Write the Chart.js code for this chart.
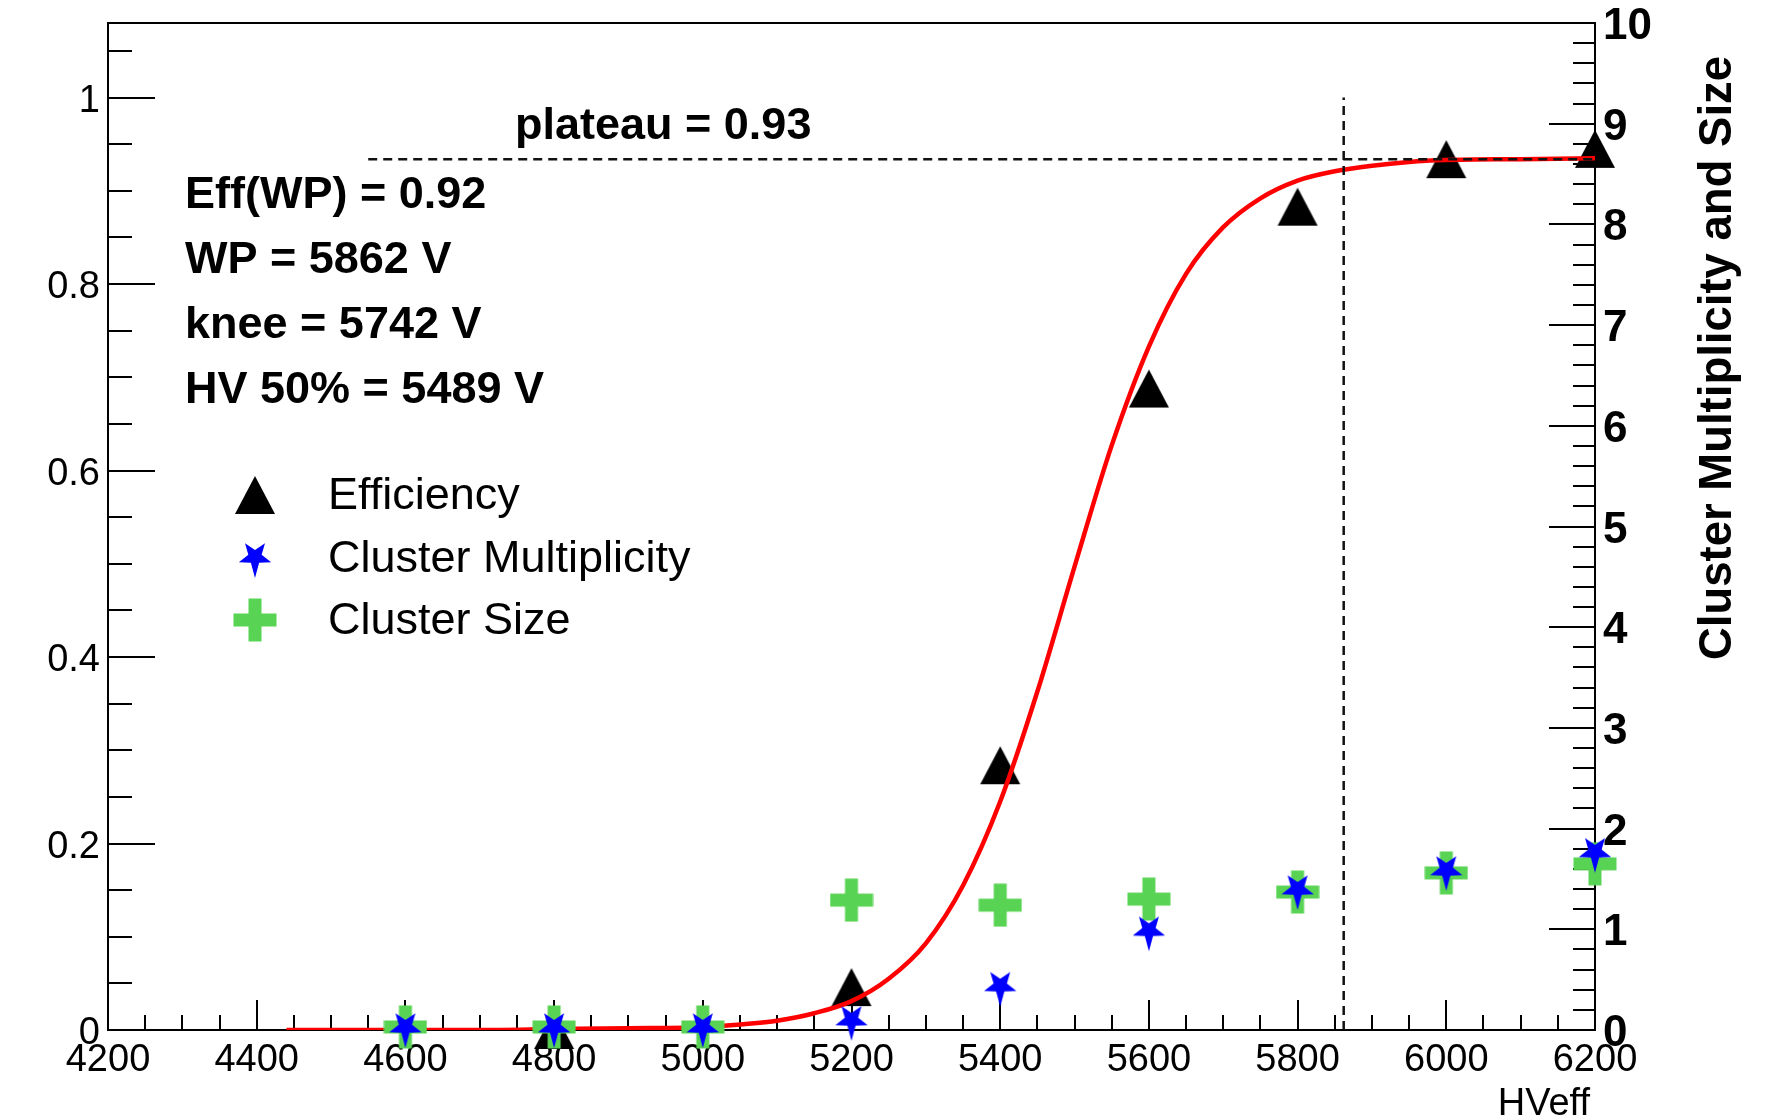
<!DOCTYPE html>
<html>
<head>
<meta charset="utf-8">
<title>Efficiency vs HVeff</title>
<script src="https://cdn.jsdelivr.net/npm/chart.js@4.4.1/dist/chart.umd.min.js"></script>
<style>
html, body { margin: 0; padding: 0; background: #ffffff; }
canvas { display: block; }
</style>
</head>
<body>
<canvas id="effChart" width="1784" height="1120"></canvas>
<script>
// measured points (HVeff in V)
const hvPoints = [4600, 4800, 5000, 5200, 5400, 5600, 5800, 6000, 6200];
const efficiency = [null, 0, null, 0.046, 0.284, 0.688, 0.883, 0.934, 0.945];
const clusterMult = [0.03, 0.03, 0.03, 0.10, 0.44, 0.99, 1.40, 1.59, 1.77];
const clusterSize = [0.03, 0.03, 0.03, 1.29, 1.24, 1.30, 1.37, 1.56, 1.65];

// sigmoid fit curve
const fitHV = [4440, 4500, 4600, 4700, 4800, 4900, 5000, 5050, 5100, 5150, 5200, 5250, 5300, 5350,
    5400, 5450, 5500, 5550, 5600, 5650, 5700, 5750, 5800, 5850, 5900, 5950, 6000, 6100, 6200];
const fitEff = [0, 0, 0, 0, 0.001, 0.002, 0.003, 0.006, 0.010, 0.018, 0.031, 0.055, 0.093, 0.155,
    0.245, 0.363, 0.497, 0.627, 0.733, 0.811, 0.861, 0.892, 0.911, 0.921, 0.927, 0.931, 0.933, 0.934, 0.935];

// plateau and working point guides
const plateauHV = [4550, 6200];
const plateauEff = [0.934, 0.934];
const wpHV = [5862, 5862];
const wpEff = [0, 1.0];

// axes
const xTicks = [4200, 4400, 4600, 4800, 5000, 5200, 5400, 5600, 5800, 6000, 6200];
const xTickLabels = ["4200", "4400", "4600", "4800", "5000", "5200", "5400", "5600", "5800", "6000", "6200"];
const yTicks = [0, 0.2, 0.4, 0.6, 0.8, 1];
const yTickLabels = ["0", "0.2", "0.4", "0.6", "0.8", "1"];
const y2Ticks = [0, 1, 2, 3, 4, 5, 6, 7, 8, 9, 10];
const y2TickLabels = ["0", "1", "2", "3", "4", "5", "6", "7", "8", "9", "10"];

const fitLines = ["Eff(WP) = 0.92", "WP = 5862 V", "knee = 5742 V", "HV 50% = 5489 V"];
const plateauLabel = "plateau = 0.93";
const legendLabels = ["Efficiency", "Cluster Multiplicity", "Cluster Size"];

const fontFamily = "'Liberation Sans', Arial, Helvetica, sans-serif";

function makeMarker(w, h, draw) {
    const c = document.createElement("canvas");
    c.width = w;
    c.height = h;
    draw(c.getContext("2d"), w / 2, h / 2);
    return c;
}

const triangleMarker = makeMarker(42, 40, (g, cx, cy) => {
    g.fillStyle = "#000000";
    g.beginPath();
    g.moveTo(cx, cy - 19);
    g.lineTo(cx + 20, cy + 19);
    g.lineTo(cx - 20, cy + 19);
    g.closePath();
    g.fill();
});

const crossMarker = makeMarker(44, 44, (g, cx, cy) => {
    g.fillStyle = "#59d354";
    g.fillRect(cx - 21.5, cy - 6.5, 43, 13);
    g.fillRect(cx - 6.5, cy - 21.5, 13, 43);
});

// five point star, one tip pointing down
const starMarker = makeMarker(40, 46, (g, cx, cy) => {
    g.fillStyle = "#0000ff";
    g.beginPath();
    for (let i = 0; i < 10; i++) {
        const a = Math.PI / 2 + i * Math.PI / 5;
        const r = i % 2 === 0 ? (i === 0 ? 21 : 17) : 7;
        const px = cx + r * Math.cos(a);
        const py = cy + r * Math.sin(a);
        if (i === 0) g.moveTo(px, py); else g.lineTo(px, py);
    }
    g.closePath();
    g.fill();
});

function xy(xs, ys) {
    return xs.map((x, i) => ({ x: x, y: ys[i] }));
}

const rootAxes = {
    id: "rootAxes",
    beforeDatasetsDraw(chart) {
        const { ctx, chartArea: a, scales } = chart;
        ctx.save();
        ctx.strokeStyle = "#000000";
        ctx.lineWidth = 2;
        ctx.strokeRect(a.left, a.top, a.right - a.left, a.bottom - a.top);

        ctx.beginPath();
        // bottom axis, minor every 50 V
        for (let v = scales.x.min; v <= scales.x.max + 0.01; v += 50) {
            const px = Math.round(scales.x.getPixelForValue(v));
            const len = xTicks.includes(v) ? 30 : 15;
            ctx.moveTo(px, a.bottom);
            ctx.lineTo(px, a.bottom - len);
        }
        // left axis, minor every 0.05
        for (let k = 0; k * 0.05 <= scales.y.max; k++) {
            const py = Math.round(scales.y.getPixelForValue(k * 0.05));
            const len = k % 4 === 0 ? 47 : 24;
            ctx.moveTo(a.left, py);
            ctx.lineTo(a.left + len, py);
        }
        // right axis, minor every 0.2
        for (let k = 0; k <= 50; k++) {
            const py = Math.round(scales.y2.getPixelForValue(k * 0.2));
            const len = k % 5 === 0 ? 46 : 22;
            ctx.moveTo(a.right, py);
            ctx.lineTo(a.right - len, py);
        }
        ctx.stroke();

        ctx.fillStyle = "#000000";
        ctx.font = "38px " + fontFamily;
        ctx.textAlign = "center";
        ctx.textBaseline = "alphabetic";
        xTicks.forEach((v, i) => {
            ctx.fillText(xTickLabels[i], scales.x.getPixelForValue(v), a.bottom + 41);
        });
        ctx.textAlign = "right";
        yTicks.forEach((v, i) => {
            ctx.fillText(yTickLabels[i], a.left - 8, scales.y.getPixelForValue(v) + 14);
        });
        ctx.fillText("HVeff", a.right - 5, 1115);

        ctx.font = "bold 44px " + fontFamily;
        ctx.textAlign = "left";
        y2Ticks.forEach((v, i) => {
            ctx.fillText(y2TickLabels[i], a.right + 8, scales.y2.getPixelForValue(v) + 16);
        });

        ctx.save();
        ctx.font = "bold 45.5px " + fontFamily;
        ctx.translate(1731, 358);
        ctx.rotate(-Math.PI / 2);
        ctx.textAlign = "center";
        ctx.fillText("Cluster Multiplicity and Size", 0, 0);
        ctx.restore();
        ctx.restore();
    },
    afterDatasetsDraw(chart) {
        const { ctx } = chart;
        ctx.save();
        ctx.fillStyle = "#000000";
        ctx.textAlign = "left";
        ctx.textBaseline = "alphabetic";
        ctx.font = "bold 45px " + fontFamily;
        ctx.fillText(plateauLabel, 515, 139);
        fitLines.forEach((t, i) => ctx.fillText(t, 185, 208 + i * 65));

        // legend
        const markers = [triangleMarker, starMarker, crossMarker];
        const rowY = [495, 557, 620];
        const textY = [509, 572, 634];
        ctx.font = "45px " + fontFamily;
        legendLabels.forEach((label, i) => {
            const m = markers[i];
            ctx.drawImage(m, 255 - m.width / 2, rowY[i] - m.height / 2);
            ctx.fillText(label, 328, textY[i]);
        });
        ctx.restore();
    }
};

new Chart(document.getElementById("effChart"), {
    type: "line",
    data: {
        datasets: [
            {
                label: "Cluster Multiplicity",
                data: xy(hvPoints, clusterMult),
                yAxisID: "y2",
                showLine: false,
                pointStyle: starMarker,
                pointRadius: 10,
                clip: false,
                order: 0
            },
            {
                label: "Cluster Size",
                data: xy(hvPoints, clusterSize),
                yAxisID: "y2",
                showLine: false,
                pointStyle: crossMarker,
                pointRadius: 10,
                clip: false,
                order: 1
            },
            {
                label: "plateau",
                data: xy(plateauHV, plateauEff),
                yAxisID: "y",
                borderColor: "#111111",
                borderWidth: 2.5,
                borderDash: [9, 6],
                pointRadius: 0,
                order: 2
            },
            {
                label: "WP",
                data: xy(wpHV, wpEff),
                yAxisID: "y",
                borderColor: "#111111",
                borderWidth: 2.5,
                borderDash: [9, 6],
                pointRadius: 0,
                order: 2
            },
            {
                label: "fit",
                data: xy(fitHV, fitEff),
                yAxisID: "y",
                borderColor: "#ff0000",
                borderWidth: 4.5,
                pointRadius: 0,
                cubicInterpolationMode: "monotone",
                order: 3
            },
            {
                label: "Efficiency",
                data: xy(hvPoints, efficiency),
                yAxisID: "y",
                showLine: false,
                pointStyle: triangleMarker,
                pointRadius: 10,
                clip: false,
                order: 4
            }
        ]
    },
    options: {
        responsive: false,
        devicePixelRatio: 1,
        animation: false,
        events: [],
        layout: {
            padding: { left: 108, top: 23, right: 189, bottom: 90 }
        },
        scales: {
            x: { type: "linear", min: 4200, max: 6200, display: false },
            y: { type: "linear", min: 0, max: 1.08, display: false },
            y2: { type: "linear", position: "right", min: 0, max: 10, display: false }
        },
        plugins: {
            legend: { display: false },
            tooltip: { enabled: false }
        }
    },
    plugins: [rootAxes]
});
</script>
</body>
</html>
